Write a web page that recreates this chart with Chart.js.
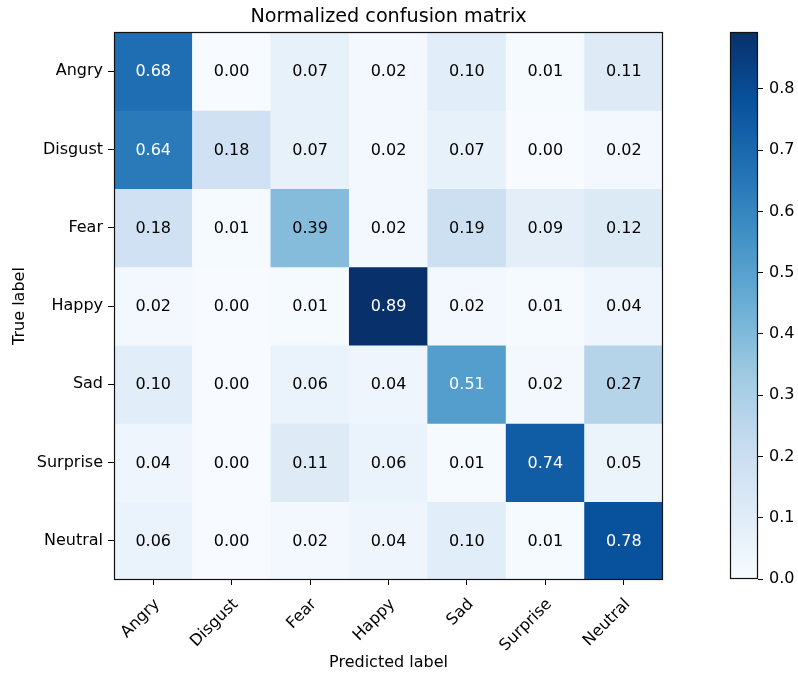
<!DOCTYPE html>
<html><head><meta charset="utf-8">
<script src="https://cdn.jsdelivr.net/npm/chart.js@4"></script>
<style>
html,body{margin:0;padding:0;background:#fff;}
#wrap{position:relative;width:798px;height:675px;overflow:hidden;}
canvas{position:absolute;top:0;}
#main{left:0;}
#cbar{left:700px;}
</style></head><body>
<div id="wrap"><canvas id="main" width="798" height="675"></canvas><canvas id="cbar" width="98" height="675"></canvas></div>
<script>
// ---- data ----
const classNames = ['Angry', 'Disgust', 'Fear', 'Happy', 'Sad', 'Surprise', 'Neutral'];
const rowAngry    = [0.68, 0.00, 0.07, 0.02, 0.10, 0.01, 0.11];
const rowDisgust  = [0.64, 0.18, 0.07, 0.02, 0.07, 0.00, 0.02];
const rowFear     = [0.18, 0.01, 0.39, 0.02, 0.19, 0.09, 0.12];
const rowHappy    = [0.02, 0.00, 0.01, 0.89, 0.02, 0.01, 0.04];
const rowSad      = [0.10, 0.00, 0.06, 0.04, 0.51, 0.02, 0.27];
const rowSurprise = [0.04, 0.00, 0.11, 0.06, 0.01, 0.74, 0.05];
const rowNeutral  = [0.06, 0.00, 0.02, 0.04, 0.10, 0.01, 0.78];
const matrix = [rowAngry, rowDisgust, rowFear, rowHappy, rowSad, rowSurprise, rowNeutral];
const colorbarTicks = [0.0, 0.1, 0.2, 0.3, 0.4, 0.5, 0.6, 0.7, 0.8];
const vmin = 0.0;
const vmax = 0.893;

// ---- matplotlib "Blues" colormap ----
const bluesAnchors = [
  [247,251,255],[222,235,247],[198,219,239],[158,202,225],[107,174,214],
  [66,146,198],[33,113,181],[8,81,156],[8,48,107]
];
function blues(t) {
  t = Math.max(0, Math.min(1, t));
  const n = bluesAnchors.length - 1;
  const p = t * n;
  const i = Math.min(n - 1, Math.floor(p));
  const f = p - i;
  const a = bluesAnchors[i], b = bluesAnchors[i + 1];
  const c = a.map((v, k) => Math.round(v + (b[k] - v) * f));
  return `rgb(${c[0]},${c[1]},${c[2]})`;
}
function norm(v) { return (v - vmin) / (vmax - vmin); }

Chart.defaults.font.family = "'DejaVu Sans', sans-serif";
Chart.defaults.font.size = 16;
Chart.defaults.color = '#000';

const frame = {
  id: 'frame',
  afterDatasetsDraw(chart) {
    const {ctx, chartArea: a} = chart;
    ctx.save();
    ctx.strokeStyle = '#111';
    ctx.lineWidth = 1.2;
    ctx.strokeRect(Math.round(a.left) + 0.5, Math.round(a.top) + 0.5,
                   Math.round(a.right) - Math.round(a.left) - 1, Math.round(a.bottom) - Math.round(a.top) - 1);
    ctx.restore();
  }
};

const cellText = {
  id: 'cellText',
  afterDatasetsDraw(chart) {
    const {ctx, scales: {x, y}} = chart;
    ctx.save();
    ctx.font = "16px 'DejaVu Sans'";
    ctx.textAlign = 'center';
    ctx.textBaseline = 'middle';
    const thresh = vmax / 2;
    matrix.forEach((row, r) => row.forEach((v, c) => {
      ctx.fillStyle = v > thresh ? '#fff' : '#000';
      ctx.fillText(v.toFixed(2), x.getPixelForValue(c), y.getPixelForValue(r) + 1);
    }));
    ctx.restore();
  }
};

const datasets = matrix.map((row, r) => ({
  label: classNames[r],
  data: row.map(() => [r - 0.5, r + 0.5]),
  backgroundColor: row.map(v => blues(norm(v))),
  borderWidth: 0,
  grouped: false,
  barPercentage: 1,
  categoryPercentage: 1
}));

new Chart(document.getElementById('main'), {
  type: 'bar',
  data: { labels: classNames, datasets },
  options: {
    responsive: false,
    animation: false,
    events: [],
    layout: { padding: { left: 0, right: 135, top: 0, bottom: 0 } },
    plugins: {
      legend: { display: false },
      tooltip: { enabled: false },
      title: {
        display: true,
        text: 'Normalized confusion matrix',
        fullSize: false,
        color: '#000',
        font: { size: 19.2, weight: 'normal' },
        padding: { top: 5, bottom: 4 }
      }
    },
    scales: {
      x: {
        type: 'category',
        offset: true,
        grid: { offset: false, drawOnChartArea: false, drawTicks: true, tickLength: 5, color: '#000' },
        border: { display: false },
        ticks: { autoSkip: false, minRotation: 45, maxRotation: 45, padding: 10, labelOffset: 4, color: '#000' },
        title: { display: true, text: 'Predicted label', color: '#000', font: { size: 16 }, padding: { top: 0, bottom: 3 } },
        afterFit(s) { s.height = 95; }
      },
      y: {
        type: 'linear',
        min: -0.5,
        max: 6.5,
        reverse: true,
        afterBuildTicks(s) { s.ticks = classNames.map((_, i) => ({ value: i })); },
        ticks: { callback: (v) => classNames[v], padding: 5, color: '#000' },
        grid: { drawOnChartArea: false, drawTicks: true, tickLength: 6, color: '#000' },
        border: { display: false },
        title: { display: true, text: 'True label', color: '#000', font: { size: 16 }, padding: { top: 10, bottom: 0 } },
        afterFit(s) { s.width = 114; }
      }
    }
  },
  plugins: [cellText, frame]
});

new Chart(document.getElementById('cbar'), {
  type: 'bar',
  data: {
    labels: [''],
    datasets: [{
      data: [[vmin, vmax]],
      borderWidth: 0,
      barPercentage: 1,
      categoryPercentage: 1,
      backgroundColor(ctx) {
        const ch = ctx.chart;
        if (!ch.chartArea) return '#fff';
        const ys = ch.scales.y;
        const g = ch.ctx.createLinearGradient(0, ys.getPixelForValue(vmin), 0, ys.getPixelForValue(vmax));
        const n = bluesAnchors.length - 1;
        bluesAnchors.forEach((_, i) => g.addColorStop(i / n, blues(i / n)));
        return g;
      }
    }]
  },
  options: {
    responsive: false,
    animation: false,
    events: [],
    layout: { padding: { left: 30, right: 0, top: 32, bottom: 96 } },
    plugins: { legend: { display: false }, tooltip: { enabled: false }, title: { display: false } },
    scales: {
      x: { display: false },
      y: {
        position: 'right',
        min: vmin,
        max: vmax,
        afterBuildTicks(s) { s.ticks = colorbarTicks.map(v => ({ value: v })); },
        ticks: { callback: (v) => Number(v).toFixed(1), padding: 6, color: '#000' },
        grid: { drawOnChartArea: false, drawTicks: true, tickLength: 5, color: '#000' },
        border: { display: false },
        afterFit(s) { s.width = 40; }
      }
    }
  },
  plugins: [frame]
});
</script>
</body></html>
